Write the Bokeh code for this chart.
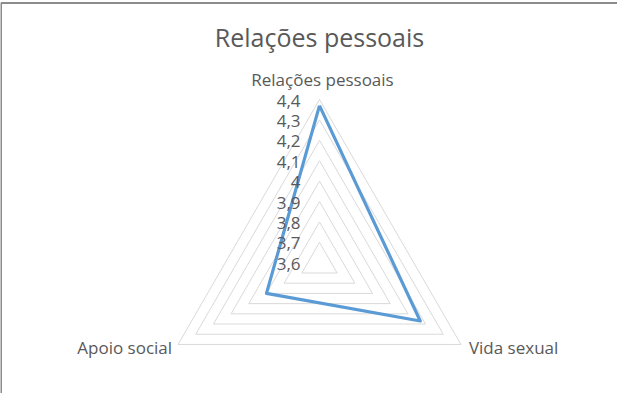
import math
from bokeh.plotting import figure
from bokeh.models import Range1d
from bokeh.core.properties import value
from bokeh.embed import file_html
from bokeh.resources import INLINE

# ---- data ----
chart_title = "Relações pessoais"
categories = ["Relações pessoais", "Vida sexual", "Apoio social"]
scores = [4.37, 4.17, 3.90]
tick_values = [3.6, 3.7, 3.8, 3.9, 4.0, 4.1, 4.2, 4.3, 4.4]
tick_labels = ["3,6", "3,7", "3,8", "3,9", "4", "4,1", "4,2", "4,3", "4,4"]

# ---- layout ----
W, H = 617, 393
CX, CY = 319.0, 262.3   # centre of radar in figure pixels (from left / top)
R = 163.3               # outer radius in pixels
vmin, vmax = tick_values[0], tick_values[-1]
FONT = "Open Sans"
TXT = "#595959"

def rad(v):
    return (v - vmin) / (vmax - vmin) * R

angles = [math.radians(90 - 120 * k) for k in range(len(categories))]

p = figure(width=W, height=H, x_range=Range1d(-CX, W - CX), y_range=Range1d(-(H - CY), CY),
           output_backend="svg", toolbar_location=None, min_border=0,
           x_axis_type=None, y_axis_type=None, title=None)
p.grid.visible = False
p.outline_line_color = None
p.background_fill_color = "white"
p.border_fill_color = "white"

# chart-area border (top and left visible)
p.line(x=[-CX + 0.5, -CX + 0.5, W - CX], y=[-(H - CY), CY - 2.5, CY - 2.5],
       line_color="#8c8c8c", line_width=2)

# grid rings
xs, ys = [], []
for v in tick_values[1:]:
    r = rad(v)
    xs.append([r * math.cos(a) for a in angles] + [r * math.cos(angles[0])])
    ys.append([r * math.sin(a) for a in angles] + [r * math.sin(angles[0])])
p.multi_line(xs=xs, ys=ys, line_color="#d9d9d9", line_width=1)

# data series
dx = [rad(s) * math.cos(a) for s, a in zip(scores, angles)]
dy = [rad(s) * math.sin(a) for s, a in zip(scores, angles)]
p.line(x=dx + dx[:1], y=dy + dy[:1], line_color="#5b9bd5", line_width=3.2, line_join="round")

# value axis tick labels
p.text(x=[-19] * len(tick_values), y=[rad(v) - 1 for v in tick_values], text=tick_labels,
       text_font=value(FONT), text_font_size="17px", text_color=TXT,
       text_align="right", text_baseline="middle")

# category labels
vx = [R * math.cos(a) for a in angles]
vy = [R * math.sin(a) for a in angles]
p.text(x=[vx[0] + 3], y=[vy[0] + 20], text=[categories[0]], text_font=value(FONT),
       text_font_size="17px", text_color=TXT, text_align="center", text_baseline="middle")
p.text(x=[vx[1] + 8], y=[vy[1] - 3], text=[categories[1]], text_font=value(FONT),
       text_font_size="17px", text_color=TXT, text_align="left", text_baseline="middle")
p.text(x=[vx[2] - 6], y=[vy[2] - 3], text=[categories[2]], text_font=value(FONT),
       text_font_size="17px", text_color=TXT, text_align="right", text_baseline="middle")

# title
p.text(x=[0], y=[226], text=[chart_title], text_font=value(FONT), text_font_size="25px",
       text_color=TXT, text_align="center", text_baseline="alphabetic")

open("out.html", "w").write(file_html(p, INLINE))
